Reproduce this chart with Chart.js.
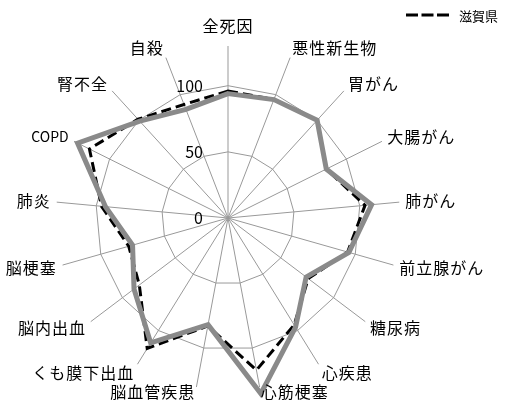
<!DOCTYPE html>
<html>
<head>
<meta charset="utf-8">
<script src="https://cdn.jsdelivr.net/npm/chart.js@4/dist/chart.umd.min.js"></script>
<style>
  html, body { margin: 0; padding: 0; background: #fff; }
  #wrap { width: 517px; height: 401px; }
</style>
</head>
<body>
<div id="wrap"><canvas id="grafico"></canvas></div>
<script>
// Datos
const categorias = ['全死因', '悪性新生物', '胃がん', '大腸がん', '肺がん', '前立腺がん', '糖尿病', '心疾患', '心筋梗塞',
  '脳血管疾患', 'くも膜下出血', '脳内出血', '脳梗塞', '肺炎', 'COPD', '腎不全', '自殺'];
const valoresGris = [94, 96, 100, 83, 109, 95, 74, 97, 135, 82, 111, 89, 75, 93, 127, 99, 88];
const valoresShiga = [96, 96, 100, 83, 104, 94, 76, 95, 117, 83, 116, 84, 78, 96, 117, 101, 92];
const ticksEje = [0, 50, 100];
const maxEje = 130;

const fuente = "'Noto Sans CJK JP', 'Noto Sans', sans-serif";

// Etiquetas del eje a la izquierda de la línea vertical
const etiquetasEje = {
  id: 'etiquetasEje',
  afterDatasetsDraw(chart) {
    const escala = chart.scales.r;
    const ctx = chart.ctx;
    ctx.save();
    ctx.font = '16px ' + fuente;
    ctx.fillStyle = '#000';
    ctx.textAlign = 'right';
    ctx.textBaseline = 'middle';
    ticksEje.forEach(v => {
      const d = escala.getDistanceFromCenterForValue(v);
      ctx.fillText(String(v), escala.xCenter - 25, escala.yCenter - d);
    });
    ctx.restore();
  }
};

// Etiquetas de categorías al estilo de Excel (centradas en vertical junto al extremo del eje)
const etiquetasCategorias = {
  id: 'etiquetasCategorias',
  afterDraw(chart) {
    const escala = chart.scales.r;
    const ctx = chart.ctx;
    const alto = 17;
    ctx.save();
    ctx.fillStyle = '#000';
    ctx.textBaseline = 'middle';
    categorias.forEach((texto, i) => {
      const latino = /^[A-Za-z]+$/.test(texto);
      ctx.font = (latino ? '14px ' : '16px ') + fuente;
      ctx.letterSpacing = latino ? '0px' : '1px';
      const ang = escala.getIndexAngle(i);
      const s = Math.sin(ang);
      const c = Math.cos(ang);
      const p = escala.getPointPosition(i, escala.drawingArea + 6);
      let y;
      if (Math.abs(s) < 0.05) {
        ctx.textAlign = 'center';
        y = p.y - c * (alto / 2 + 6);
      } else {
        ctx.textAlign = s > 0 ? 'left' : 'right';
        y = p.y - c * 4;
      }
      y = Math.min(Math.max(y, alto / 2 + 2), chart.height - alto / 2 - 1);
      ctx.fillText(texto, p.x, y);
    });
    ctx.restore();
  }
};

// Leyenda sólo para 滋賀県, arriba a la derecha
const leyenda = {
  id: 'leyenda',
  afterDraw(chart) {
    const ds = chart.data.datasets[1];
    const ctx = chart.ctx;
    ctx.save();
    ctx.strokeStyle = ds.borderColor;
    ctx.lineWidth = ds.borderWidth;
    ctx.setLineDash([12, 3.5]);
    ctx.beginPath();
    ctx.moveTo(406, 15);
    ctx.lineTo(450, 15);
    ctx.stroke();
    ctx.setLineDash([]);
    ctx.font = '13px ' + fuente;
    ctx.fillStyle = '#000';
    ctx.textAlign = 'left';
    ctx.textBaseline = 'middle';
    ctx.fillText(ds.label, 459, 16);
    ctx.restore();
  }
};

new Chart(document.getElementById('grafico'), {
  type: 'radar',
  data: {
    labels: categorias,
    datasets: [{
      label: '全国',
      data: valoresGris,
      borderColor: '#8a8a8a',
      borderWidth: 5,
      fill: false,
      pointRadius: 0,
      tension: 0
    }, {
      label: '滋賀県',
      data: valoresShiga,
      borderColor: '#000',
      borderWidth: 3,
      borderDash: [10, 5],
      fill: false,
      pointRadius: 0,
      tension: 0
    }]
  },
  options: {
    responsive: true,
    maintainAspectRatio: false,
    animation: false,
    layout: { padding: { left: 56, right: 117, top: 46, bottom: 11 } },
    plugins: {
      legend: { display: false },
      tooltip: { enabled: false }
    },
    scales: {
      r: {
        min: 0,
        max: maxEje,
        beginAtZero: true,
        ticks: { display: false, stepSize: 50 },
        grid: {
          color: ctx => (ctx.tick && ticksEje.includes(ctx.tick.value)) ? '#999' : 'rgba(0,0,0,0)',
          lineWidth: 1
        },
        angleLines: { color: '#999', lineWidth: 1 },
        pointLabels: { display: false }
      }
    }
  },
  plugins: [etiquetasEje, etiquetasCategorias, leyenda]
});
</script>
</body>
</html>
